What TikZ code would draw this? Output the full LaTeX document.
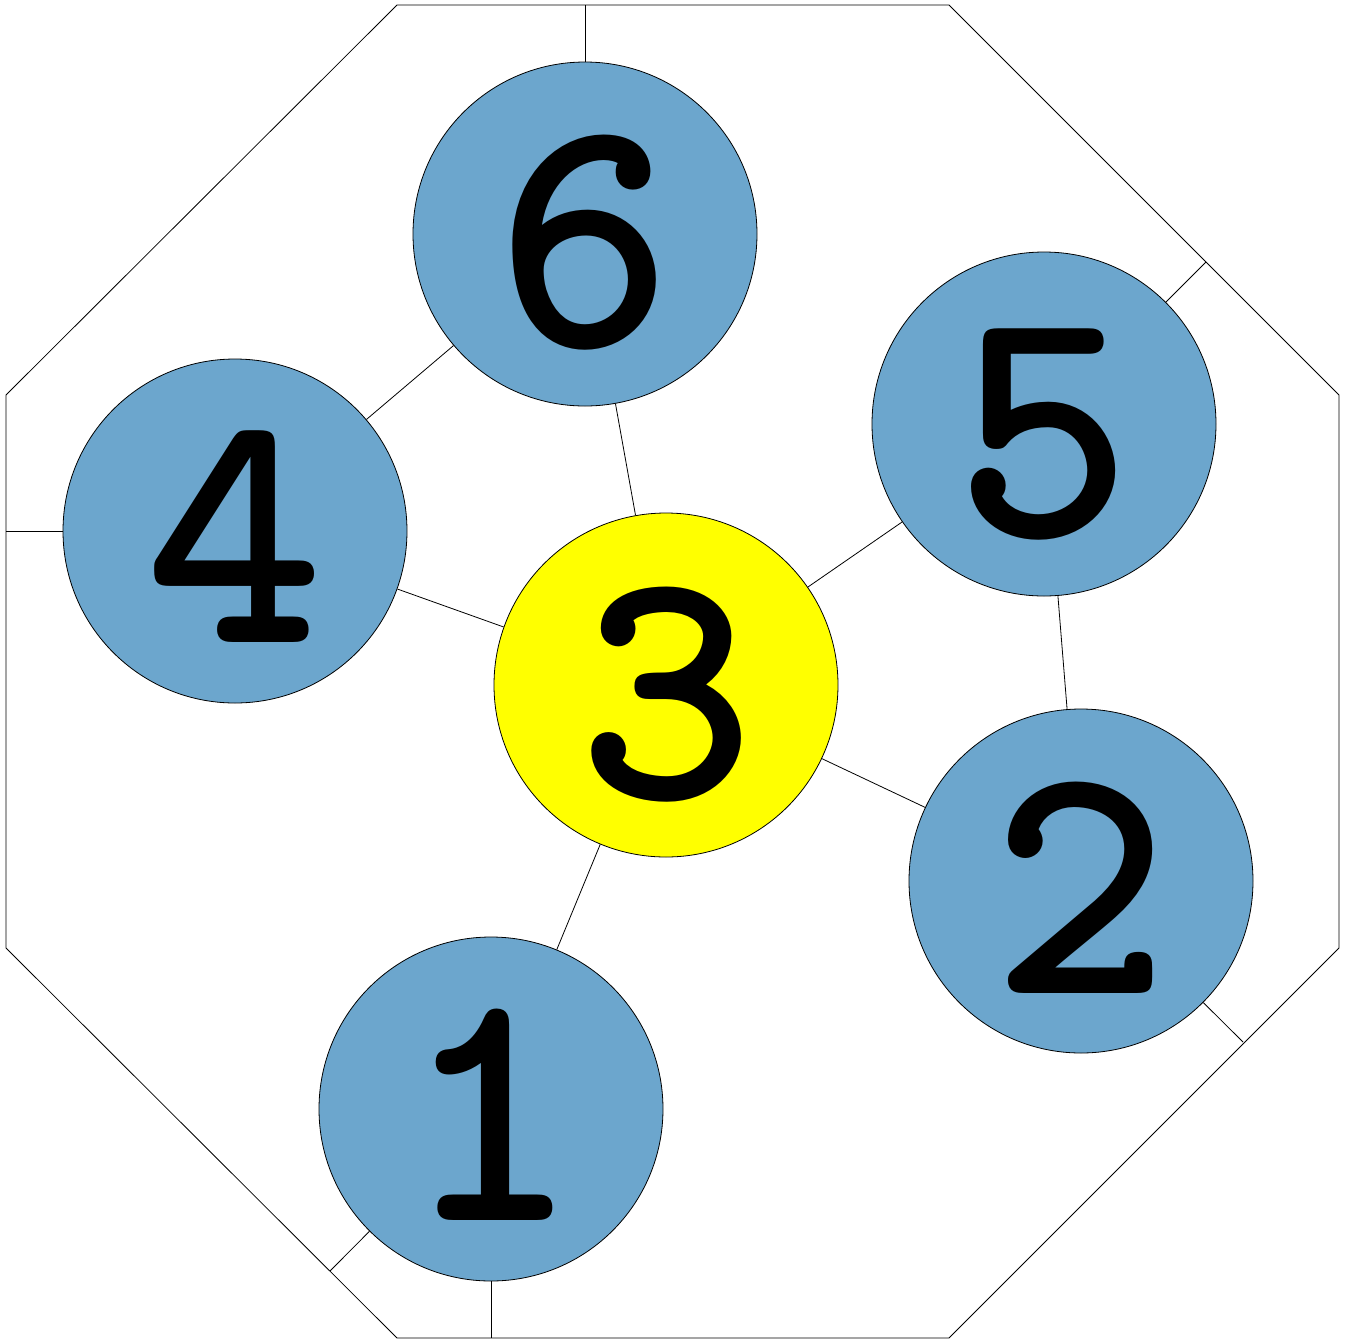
\documentclass[tikz,border=0pt]{standalone}
\usepackage{fontspec}
\definecolor{nodeblue}{RGB}{108,166,205}
\definecolor{hubyellow}{RGB}{255,255,0}
\begin{document}
\begin{tikzpicture}[x=0.5pt,y=-0.5pt,
  ball/.style={circle,draw=black,line width=0.4pt,minimum size=172pt,inner sep=0pt,fill=nodeblue},
  hub/.style={ball,fill=hubyellow},
  lbl/.style={font=\ttfamily\bfseries\fontsize{170}{170}\selectfont,inner sep=0pt},
  link/.style={draw=black,line width=0.4pt}]
\useasboundingbox (0,0) rectangle (1346,1340);
\coordinate (o1) at (397,5);
\coordinate (o2) at (949,5);
\coordinate (o3) at (1339,395);
\coordinate (o4) at (1339,948);
\coordinate (o5) at (949,1338);
\coordinate (o6) at (397,1338);
\coordinate (o7) at (6,948);
\coordinate (o8) at (6,395);
\draw[link] (o1)--(o2)--(o3)--(o4)--(o5)--(o6)--(o7)--(o8)--cycle;
\coordinate (e6) at (585,5);
\coordinate (e4) at (6,531);
\coordinate (e5) at (1206,262);
\coordinate (e2) at (1243,1042);
\coordinate (e1a) at (491,1338);
\coordinate (e1b) at (330,1271);
\node[ball] (n6) at (585,234) {};
\node[ball] (n4) at (235,531) {};
\node[ball] (n5) at (1044,424) {};
\node[hub]  (n3) at (666,685) {};
\node[ball] (n2) at (1081,881) {};
\node[ball] (n1) at (491,1109) {};
\draw[link] (n6)--(n4);
\draw[link] (n6)--(n3);
\draw[link] (n3)--(n4);
\draw[link] (n3)--(n5);
\draw[link] (n5)--(n2);
\draw[link] (n3)--(n2);
\draw[link] (n3)--(n1);
\draw[link] (n6)--(e6);
\draw[link] (n4)--(e4);
\draw[link] (n5)--(e5);
\draw[link] (n2)--(e2);
\draw[link] (n1)--(e1a);
\draw[link] (n1)--(e1b);
\node[lbl] (t6) at (585,243) {6};
\node[lbl] (t4) at (235,537) {4};
\node[lbl] (t5) at (1044,434) {5};
\node[lbl] (t3) at (667,695) {3};
\node[lbl] (t2) at (1081,888) {2};
\node[lbl] (t1) at (491,1115) {1};
\end{tikzpicture}
\end{document}
